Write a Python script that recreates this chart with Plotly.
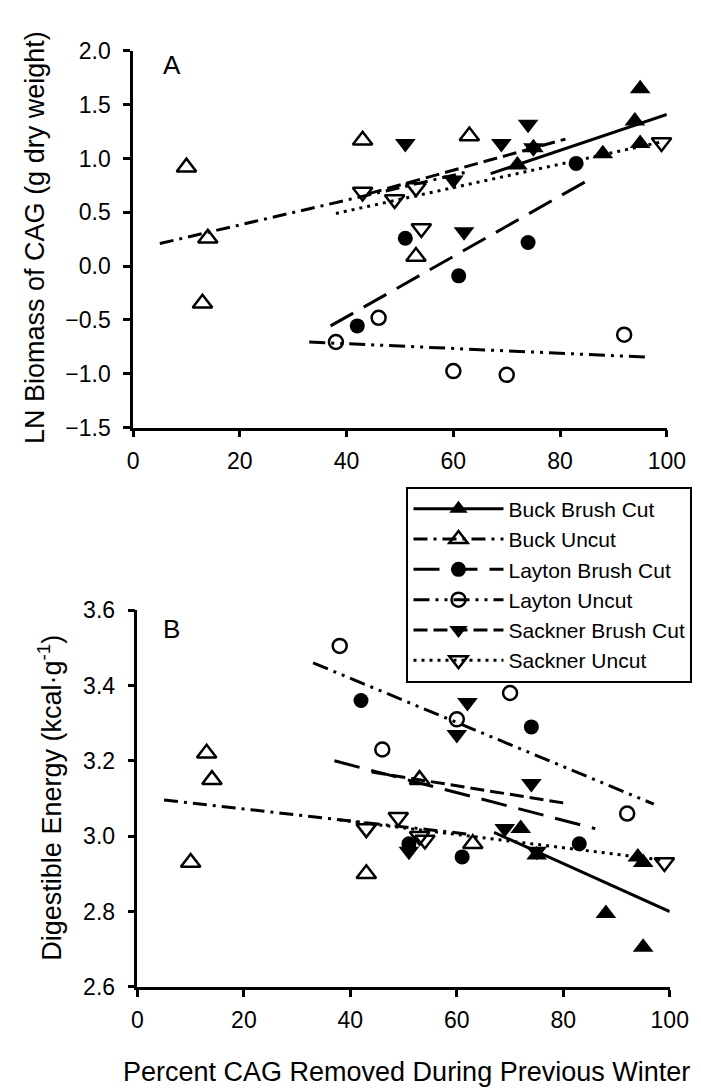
import plotly.graph_objects as go

# ---------------- data ----------------
series_names = ["Buck Brush Cut", "Buck Uncut", "Layton Brush Cut",
                "Layton Uncut", "Sackner Brush Cut", "Sackner Uncut"]

# percent CAG removed during previous winter (x), per series
buck_cut_x = [72, 75, 88, 94, 95, 95]
buck_uncut_x = [10, 13, 14, 43, 53, 63]
layton_cut_x = [42, 51, 61, 74, 83]
layton_uncut_x = [38, 46, 60, 70, 92]
sackner_cut_x = [51, 60, 62, 69, 74, 75]
sackner_uncut_x = [43, 49, 53, 54, 99]

# panel A: LN biomass of CAG (g dry weight)
buck_cut_biomass = [0.94, 1.10, 1.045, 1.35, 1.65, 1.14]
buck_uncut_biomass = [0.92, -0.345, 0.26, 1.17, 0.09, 1.21]
layton_cut_biomass = [-0.555, 0.26, -0.09, 0.22, 0.955]
layton_uncut_biomass = [-0.705, -0.48, -0.975, -1.01, -0.637]
sackner_cut_biomass = [1.14, 0.80, 0.32, 1.14, 1.32, 1.10]
sackner_uncut_biomass = [0.69, 0.62, 0.73, 0.35, 1.15]

# panel B: digestible energy (kcal/g)
buck_cut_energy = [3.02, 2.95, 2.795, 2.945, 2.705, 2.93]
buck_uncut_energy = [2.93, 3.22, 3.15, 2.90, 3.15, 2.98]
layton_cut_energy = [3.36, 2.98, 2.945, 3.29, 2.98]
layton_uncut_energy = [3.505, 3.23, 3.31, 3.38, 3.06]
sackner_cut_energy = [2.96, 3.27, 3.355, 3.02, 3.14, 2.96]
sackner_uncut_energy = [3.02, 3.05, 3.00, 2.99, 2.93]

# regression lines: x extent and fitted values at the ends
buck_cut_fit_x = [67, 100]
buck_uncut_fit_x = [5, 63]
layton_cut_fit_x = [37, 86]
layton_uncut_fit_x = [33, 97]
sackner_cut_fit_x = [44, 81]
sackner_uncut_fit_x = [38, 99]

buck_cut_fit_biomass = [0.86, 1.41]
buck_uncut_fit_biomass = [0.21, 0.88]
layton_cut_fit_biomass = [-0.555, 0.82]
layton_uncut_fit_biomass = [-0.705, -0.847]
sackner_cut_fit_biomass = [0.672, 1.181]
sackner_uncut_fit_biomass = [0.49, 1.155]

buck_cut_fit_energy = [3.01, 2.80]
buck_uncut_fit_energy = [3.096, 3.004]
layton_cut_fit_energy = [3.20, 3.02]
layton_uncut_fit_energy = [3.46, 3.085]
sackner_cut_fit_energy = [3.170, 3.086]
sackner_uncut_fit_energy = [3.043, 2.936]

x_ticks = [0, 20, 40, 60, 80, 100]
biomass_ticks = [-1.5, -1.0, -0.5, 0.0, 0.5, 1.0, 1.5, 2.0]
energy_ticks = [2.6, 2.8, 3.0, 3.2, 3.4, 3.6]

# ---------------- styles ----------------
symbols = ["triangle-up", "triangle-up-open", "circle",
           "circle-open", "triangle-down", "triangle-down-open"]
sizes = [18, 17, 15, 14, 18, 17]
dashes = ["solid", "14px,6px,3px,6px", "26px,12px",
          "16px,6px,3px,6px,3px,6px", "14px,6px", "3px,5px"]

xs = [buck_cut_x, buck_uncut_x, layton_cut_x, layton_uncut_x, sackner_cut_x, sackner_uncut_x]
biomass = [buck_cut_biomass, buck_uncut_biomass, layton_cut_biomass,
           layton_uncut_biomass, sackner_cut_biomass, sackner_uncut_biomass]
energy = [buck_cut_energy, buck_uncut_energy, layton_cut_energy,
          layton_uncut_energy, sackner_cut_energy, sackner_uncut_energy]
fit_xs = [buck_cut_fit_x, buck_uncut_fit_x, layton_cut_fit_x,
          layton_uncut_fit_x, sackner_cut_fit_x, sackner_uncut_fit_x]
fit_biomass = [buck_cut_fit_biomass, buck_uncut_fit_biomass, layton_cut_fit_biomass,
               layton_uncut_fit_biomass, sackner_cut_fit_biomass, sackner_uncut_fit_biomass]
fit_energy = [buck_cut_fit_energy, buck_uncut_fit_energy, layton_cut_fit_energy,
              layton_uncut_fit_energy, sackner_cut_fit_energy, sackner_uncut_fit_energy]

FONT = "Liberation Sans, Arial, Helvetica, sans-serif"
W, H = 701, 1089


def fx(p):
    return p / W


def fy(p):
    return 1 - p / H


fig = go.Figure()


def marker_style(i):
    open_ = symbols[i].endswith("open")
    return dict(symbol=symbols[i], size=sizes[i], color="black",
                line=dict(color="black", width=2.5 if open_ else 0))


for panel, (vals, fits) in enumerate([(biomass, fit_biomass), (energy, fit_energy)]):
    xa = "x" if panel == 0 else "x2"
    ya = "y" if panel == 0 else "y2"
    for i in range(6):
        fig.add_trace(go.Scatter(
            x=fit_xs[i], y=fits[i], mode="lines", xaxis=xa, yaxis=ya,
            line=dict(color="black", width=3, dash=dashes[i]),
            showlegend=False, hoverinfo="skip"))
    for i in range(6):
        fig.add_trace(go.Scatter(
            x=xs[i], y=vals[i], mode="markers", xaxis=xa, yaxis=ya,
            marker=marker_style(i), cliponaxis=False,
            name=series_names[i], showlegend=False))

# legend-only entries (marker + line style)
for i in range(6):
    fig.add_trace(go.Scatter(
        x=[None], y=[None], mode="lines+markers", name=series_names[i],
        marker=marker_style(i),
        line=dict(color="black", width=3, dash=dashes[i]),
        showlegend=True))

axis_common = dict(showgrid=False, zeroline=False, showline=True,
                   linecolor="black", linewidth=2.5, ticks="outside",
                   ticklen=7, tickwidth=2.5, tickcolor="black",
                   tickfont=dict(family=FONT, size=23, color="black"))

fig.update_layout(
    width=W, height=H,
    margin=dict(l=0, r=0, t=0, b=0),
    paper_bgcolor="white", plot_bgcolor="white",
    font=dict(family=FONT, color="black"),
    xaxis=dict(domain=[fx(123.5), fx(677)], range=[0, 100], tickvals=x_ticks,
               anchor="y", ticklabelstandoff=4, **axis_common),
    yaxis=dict(domain=[fy(416.5), fy(30.7)], range=[-1.5, 2.0],
               tickvals=biomass_ticks, tickformat=".1f", anchor="x",
               ticklabelstandoff=8, **axis_common),
    xaxis2=dict(domain=[fx(128), fx(680)], range=[0, 100], tickvals=x_ticks,
                anchor="y2", ticklabelstandoff=4, **axis_common),
    yaxis2=dict(domain=[fy(989.5), fy(603.5)], range=[2.6, 3.6],
                tickvals=energy_ticks, tickformat=".1f", anchor="x2",
                ticklabelstandoff=8, **axis_common),
    legend=dict(x=fx(407), y=fy(477), xanchor="left", yanchor="top",
                bordercolor="black", borderwidth=2, bgcolor="white",
                font=dict(family=FONT, size=21, color="black"),
                itemwidth=90, tracegroupgap=0),
    showlegend=True,
)

annots = [
    dict(text="A", x=fx(164), y=fy(45), size=26, angle=0),
    dict(text="B", x=fx(163), y=fy(623), size=26, angle=0),
    dict(text="LN Biomass of CAG (g dry weight)", x=fx(21), y=fy(222), size=27, angle=-90),
    dict(text="Digestible Energy (kcal\u00b7g<sup>-1</sup>)", x=fx(37), y=fy(796), size=27, angle=-90),
    dict(text="Percent CAG Removed During Previous Winter", x=fx(407), y=fy(1077), size=27, angle=0),
]
for a in annots:
    fig.add_annotation(text=a["text"], x=a["x"], y=a["y"], xref="paper", yref="paper",
                       xanchor="center", yanchor="middle", showarrow=False,
                       textangle=a["angle"],
                       font=dict(family=FONT, size=a["size"], color="black"))

fig.write_html("out.html")
